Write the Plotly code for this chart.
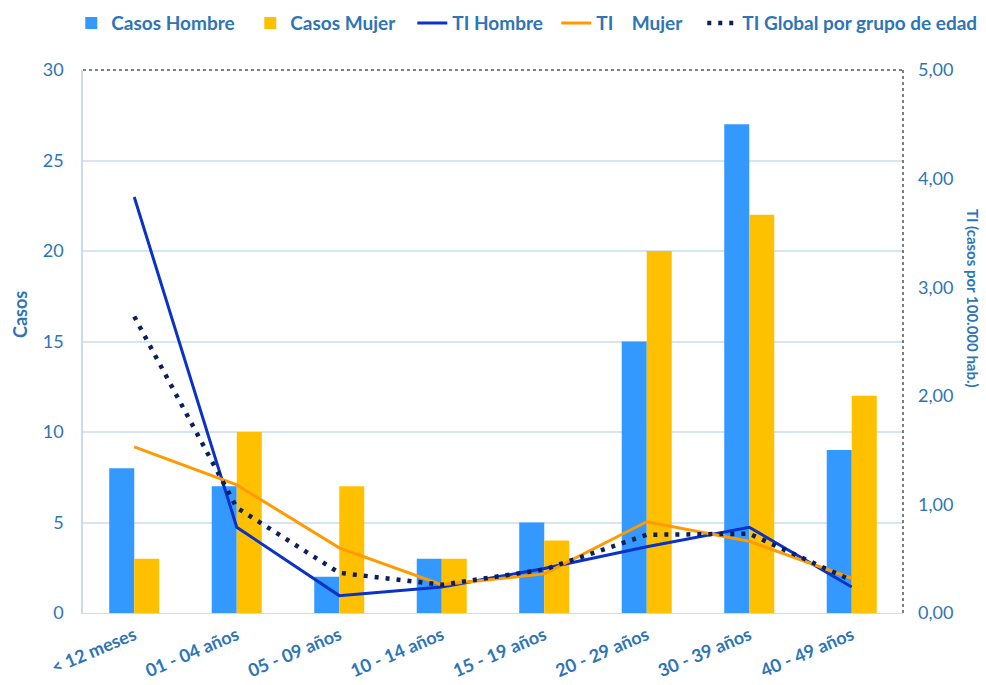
import plotly.graph_objects as go

categorias = ["< 12 meses", "01 - 04 años", "05 - 09 años", "10 - 14 años",
              "15 - 19 años", "20 - 29 años", "30 - 39 años", "40 - 49 años"]
casos_hombre = [8, 7, 2, 3, 5, 15, 27, 9]
casos_mujer = [3, 10, 7, 3, 4, 20, 22, 12]
ti_hombre = [3.83, 0.79, 0.16, 0.24, 0.41, 0.61, 0.79, 0.24]
ti_mujer = [1.53, 1.18, 0.60, 0.26, 0.36, 0.84, 0.66, 0.32]
ti_global = [2.73, 0.97, 0.37, 0.26, 0.40, 0.72, 0.73, 0.30]

FONT = "Lato"
TXT = "#2e75b6"

fig = go.Figure()
fig.add_trace(go.Bar(x=categorias, y=casos_hombre, name="Casos Hombre", legend="legend",
                     marker=dict(color="#3399ff", line=dict(width=0))))
fig.add_trace(go.Bar(x=categorias, y=casos_mujer, name="Casos Mujer", legend="legend2",
                     marker=dict(color="#ffc000", line=dict(width=0))))
fig.add_trace(go.Scatter(x=categorias, y=ti_hombre, name="TI Hombre", yaxis="y2", legend="legend3",
                         mode="lines", line=dict(color="#0a32c8", width=3)))
fig.add_trace(go.Scatter(x=categorias, y=ti_mujer, name="TI\u00a0\u00a0\u00a0\u00a0Mujer", yaxis="y2",
                         legend="legend4", mode="lines", line=dict(color="#ff9a00", width=3)))
fig.add_trace(go.Scatter(x=categorias, y=ti_global, name="TI Global por grupo de edad", yaxis="y2",
                         legend="legend5", mode="lines",
                         line=dict(color="#0b1f5e", width=4.5, dash="4px,7px")))


def leg(xpos):
    return dict(orientation="h", xref="paper", yref="paper",
                x=xpos, y=1.1215, xanchor="left", yanchor="top",
                font=dict(family=FONT, size=19, color=TXT, weight="bold"),
                itemwidth=30, tracegroupgap=0, bgcolor="rgba(0,0,0,0)")


fig.update_layout(
    width=986, height=685,
    margin=dict(l=83, r=83, t=70, b=72, autoexpand=False),
    paper_bgcolor="white", plot_bgcolor="white",
    font=dict(family=FONT, color=TXT, size=18),
    separators=",.",
    barmode="group", bargap=0.512, bargroupgap=0,
    showlegend=True,
    legend=leg(-0.0143), legend2=leg(0.204), legend3=leg(0.4016),
    legend4=leg(0.5772), legend5=leg(0.7552),
    xaxis=dict(tickangle=-23, tickfont=dict(size=18, weight="bold", color=TXT),
               showline=True, linecolor="#d9d9d9", linewidth=1, ticks="",
               showgrid=False, ticklabelstandoff=4),
    yaxis=dict(range=[0, 30], dtick=5, showgrid=True, gridcolor="#d6e4f4", gridwidth=1.5,
               showline=True, linecolor="#c9dcf0", linewidth=1.5, zeroline=False,
               tickfont=dict(size=18, color=TXT), ticks="", ticklabelstandoff=14),
    yaxis2=dict(range=[0, 5], dtick=1, tickformat=".2f", overlaying="y", side="right",
                showgrid=False, zeroline=False, showline=False,
                tickfont=dict(size=18, color=TXT), ticks="", ticklabelstandoff=14),
)

# dotted top and right borders of the plot area
fig.add_shape(type="line", xref="paper", yref="paper", x0=0, x1=1, y0=1, y1=1,
              line=dict(color="#000000", width=1, dash="dot"))
fig.add_shape(type="line", xref="paper", yref="paper", x0=1, x1=1, y0=0, y1=1,
              line=dict(color="#000000", width=1, dash="dot"))

# axis titles
fig.add_annotation(text="<b>Casos</b>", xref="paper", yref="paper", x=-0.076, y=0.55,
                   textangle=-90, showarrow=False, font=dict(size=18, color=TXT),
                   xanchor="center", yanchor="middle")
fig.add_annotation(text="<b>TI (casos por 100.000 hab.)</b>", xref="paper", yref="paper",
                   x=1.099, y=0.58, textangle=90, showarrow=False,
                   font=dict(size=15, color=TXT), xanchor="right", yanchor="middle")

fig.write_html("out.html")
